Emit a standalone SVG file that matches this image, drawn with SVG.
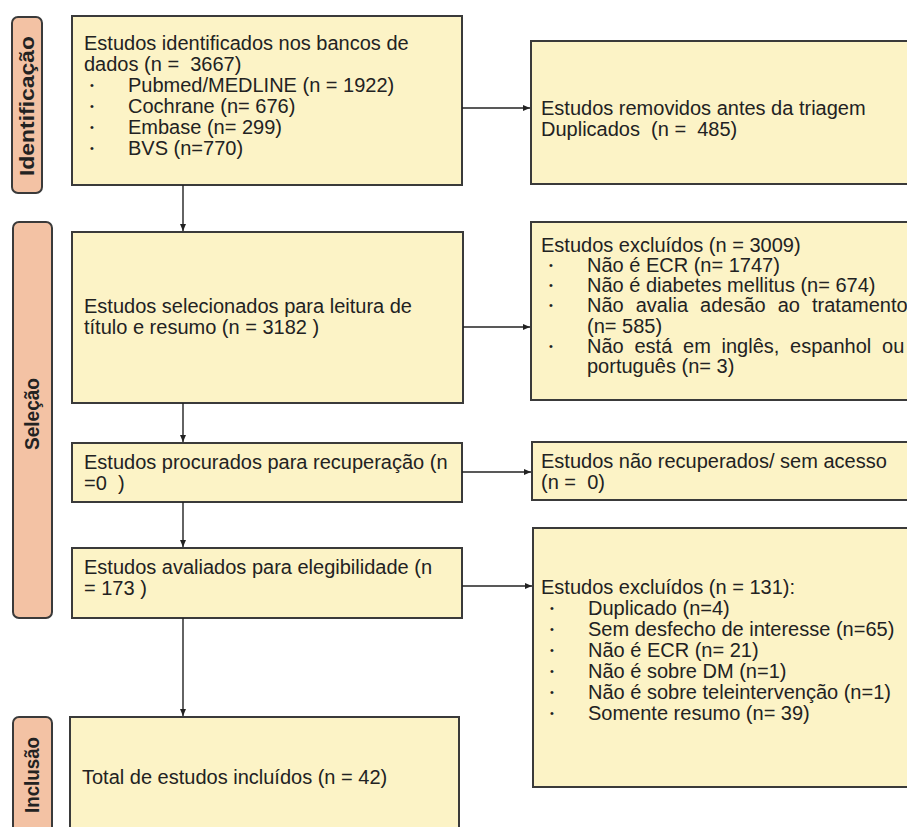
<svg xmlns="http://www.w3.org/2000/svg" width="907" height="827" viewBox="0 0 907 827">
<defs>
<marker id="ah" markerWidth="8" markerHeight="8" refX="7" refY="4" orient="auto" markerUnits="userSpaceOnUse">
<path d="M0,1 L7,4 L0,7 Z" fill="#222"/>
</marker>
<style>
.box{fill:#fcf3c6;stroke:#3a3a3a;stroke-width:2}
.pill{fill:#f3c2a4;stroke:#3a3a3a;stroke-width:2}
.t{font-family:"Liberation Sans",Arial,sans-serif;font-size:20px;fill:#222}
.b{font-family:"Liberation Sans",Arial,sans-serif;font-size:11px;fill:#222}
.pt{font-family:"Liberation Sans",Arial,sans-serif;font-size:20px;font-weight:bold;fill:#222;text-anchor:middle;dominant-baseline:central}
.c{stroke:#222;stroke-width:1.4;fill:none;marker-end:url(#ah)}
</style>
</defs>
<rect width="907" height="827" fill="#fff"/>

<g id="phase-identificacao">
<rect class="pill" x="12" y="17" width="30" height="176" rx="6"/>
<text class="pt" transform="translate(27,106) rotate(-90)" textLength="140" lengthAdjust="spacingAndGlyphs">Identificação</text>
</g>
<g id="phase-selecao">
<rect class="pill" x="13" y="222" width="39" height="396" rx="6"/>
<text class="pt" transform="translate(32,414) rotate(-90)" textLength="72" lengthAdjust="spacingAndGlyphs">Seleção</text>
</g>
<g id="phase-inclusao">
<rect class="pill" x="13" y="717" width="39" height="130" rx="6"/>
<text class="pt" transform="translate(32,775) rotate(-90)" textLength="76" lengthAdjust="spacingAndGlyphs">Inclusão</text>
</g>

<g id="identified">
<rect class="box" x="72" y="16" width="390" height="169"/>
<text class="t" x="84" y="50">Estudos identificados nos bancos de</text>
<text class="t" x="84" y="71" xml:space="preserve">dados (n =  3667)</text>
<text class="b" x="90" y="89">•</text><text class="t" x="128" y="92">Pubmed/MEDLINE (n = 1922)</text>
<text class="b" x="90" y="110">•</text><text class="t" x="128" y="113">Cochrane (n= 676)</text>
<text class="b" x="90" y="131">•</text><text class="t" x="128" y="134">Embase (n= 299)</text>
<text class="b" x="90" y="152">•</text><text class="t" x="128" y="155">BVS (n=770)</text>
</g>

<g id="removed">
<rect class="box" x="531" y="41" width="390" height="143"/>
<text class="t" x="541" y="115">Estudos removidos antes da triagem</text>
<text class="t" x="541" y="136" xml:space="preserve">Duplicados  (n =  485)</text>
</g>

<g id="screened">
<rect class="box" x="72" y="232" width="391" height="171"/>
<text class="t" x="84" y="313">Estudos selecionados para leitura de</text>
<text class="t" x="84" y="334">título e resumo (n = 3182 )</text>
</g>

<g id="excluded-screening">
<rect class="box" x="531" y="222" width="390" height="178"/>
<text class="t" x="541" y="252">Estudos excluídos (n = 3009)</text>
<text class="b" x="549" y="269">•</text><text class="t" x="587" y="272">Não é ECR (n= 1747)</text>
<text class="b" x="549" y="289">•</text><text class="t" x="587" y="292">Não é diabetes mellitus (n= 674)</text>
<text class="b" x="549" y="309">•</text><text class="t" x="587" y="312" word-spacing="6.5">Não avalia adesão ao tratamento</text>
<text class="t" x="587" y="333">(n= 585)</text>
<text class="b" x="549" y="350">•</text><text class="t" x="587" y="353" word-spacing="5.2">Não está em inglês, espanhol ou</text>
<text class="t" x="587" y="373">português (n= 3)</text>
</g>

<g id="sought">
<rect class="box" x="72" y="443" width="390" height="59"/>
<text class="t" x="84" y="469">Estudos procurados para recuperação (n</text>
<text class="t" x="84" y="490" xml:space="preserve">=0  )</text>
</g>

<g id="not-retrieved">
<rect class="box" x="532" y="442" width="390" height="58"/>
<text class="t" x="541" y="468">Estudos não recuperados/ sem acesso</text>
<text class="t" x="541" y="489" xml:space="preserve">(n =  0)</text>
</g>

<g id="assessed">
<rect class="box" x="72" y="548" width="390" height="70"/>
<text class="t" x="84" y="574">Estudos avaliados para elegibilidade (n</text>
<text class="t" x="84" y="595">= 173 )</text>
</g>

<g id="excluded-eligibility">
<rect class="box" x="533" y="528" width="390" height="259"/>
<text class="t" x="541" y="594">Estudos excluídos (n = 131):</text>
<text class="b" x="550" y="612">•</text><text class="t" x="588" y="615">Duplicado (n=4)</text>
<text class="b" x="550" y="633">•</text><text class="t" x="588" y="636">Sem desfecho de interesse (n=65)</text>
<text class="b" x="550" y="654">•</text><text class="t" x="588" y="657">Não é ECR (n= 21)</text>
<text class="b" x="550" y="675">•</text><text class="t" x="588" y="678">Não é sobre DM (n=1)</text>
<text class="b" x="550" y="696">•</text><text class="t" x="588" y="699">Não é sobre teleintervenção (n=1)</text>
<text class="b" x="550" y="717">•</text><text class="t" x="588" y="720">Somente resumo (n= 39)</text>
</g>

<g id="included">
<rect class="box" x="70" y="717" width="389" height="130"/>
<text class="t" x="82" y="784">Total de estudos incluídos (n = 42)</text>
</g>

<g id="connectors">
<line class="c" x1="183" y1="185" x2="183" y2="231"/>
<line class="c" x1="462" y1="108" x2="530" y2="108"/>
<line class="c" x1="463" y1="327" x2="530" y2="327"/>
<line class="c" x1="183" y1="403" x2="183" y2="442"/>
<line class="c" x1="462" y1="472" x2="531" y2="472"/>
<line class="c" x1="183" y1="502" x2="183" y2="547"/>
<line class="c" x1="462" y1="586" x2="532" y2="586"/>
<line class="c" x1="183" y1="618" x2="183" y2="716"/>
</g>
</svg>
